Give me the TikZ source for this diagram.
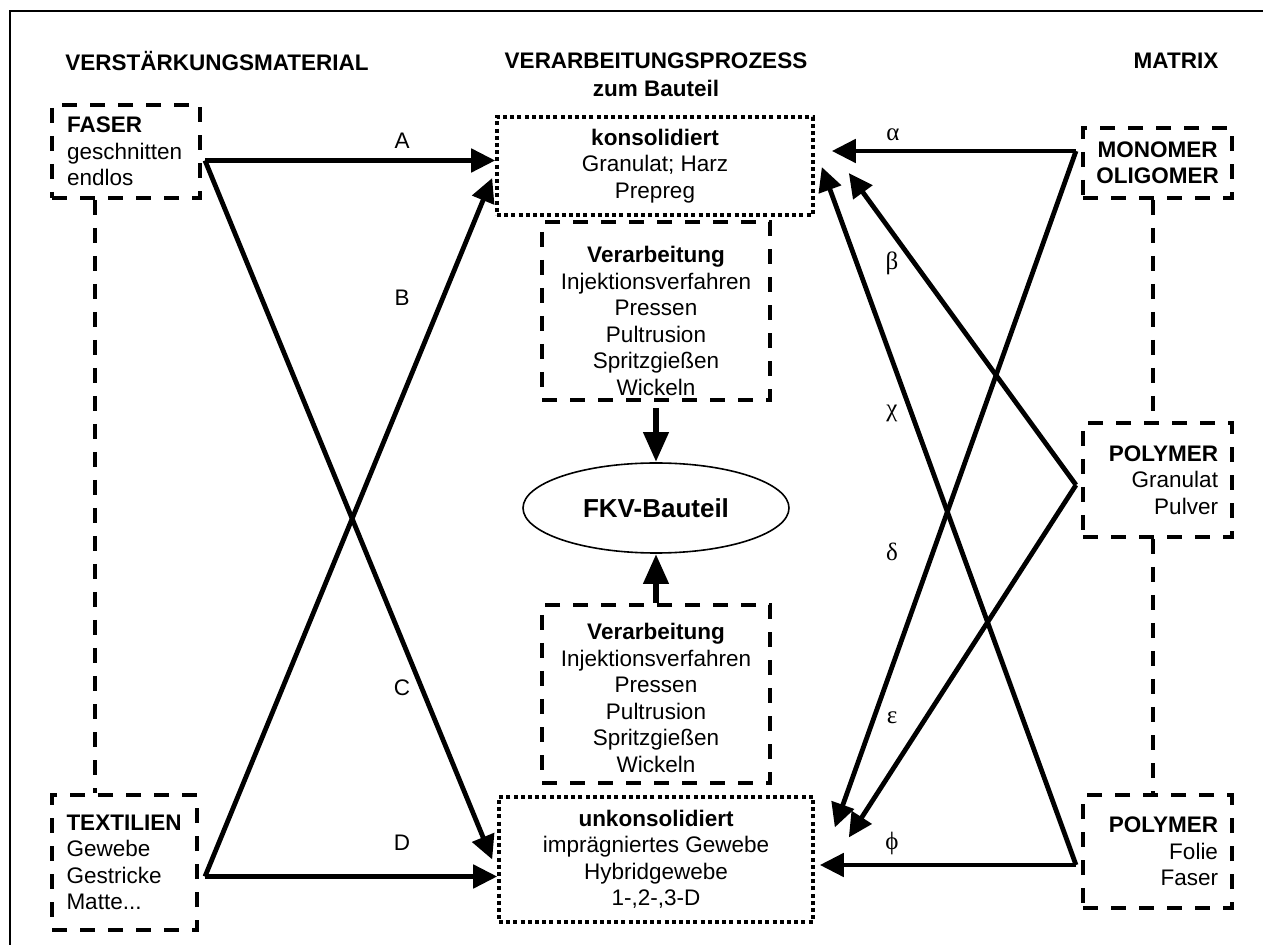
\documentclass[tikz,border=0pt]{standalone}
\usepackage{fontspec}
\setmainfont{Liberation Sans}
\newfontfamily\greekfont{Liberation Serif}
\usepackage{tikz}
\usetikzlibrary{calc,positioning,arrows.meta,shapes.geometric}

\begin{document}
\begin{tikzpicture}[x=0.5pt,y=-0.5pt,
    every node/.style={font=\fontsize{11.25}{13.25}\selectfont, inner sep=0pt},
    dashbox/.style={draw, line width=2pt, dash pattern=on 7.5pt off 6.5pt},
    dotbox/.style={draw, line width=1.8pt, dash pattern=on 2pt off 1.6pt, align=center},
    dashline/.style={line width=2pt, dash pattern=on 7.5pt off 6.5pt},
    arr/.style={line width=2.4pt, -{Triangle[length=12pt,width=11.5pt]}},
    bigarr/.style={line width=3.4pt, -{Triangle[length=15pt,width=12pt]}},
    letter/.style={font=\fontsize{11.25}{13}\selectfont},
    greek/.style={font=\greekfont\fontsize{12.5}{14}\selectfont}]

    \useasboundingbox (0,0) rectangle (1263,945);
    \draw[line width=0.6pt] (10,945) -- (10,11) -- (1263,11);

    % headings
    \node (hverst) at (217,61) {\textbf{VERSTÄRKUNGSMATERIAL}};
    \node[align=center] (hproz) at (656,75) {\textbf{VERARBEITUNGSPROZESS}\\[0.5pt]\textbf{zum Bauteil}};
    \node (hmatrix) at (1176,61) {\textbf{MATRIX}};

    % left column
    \node[dashbox, minimum width=74pt, minimum height=46.5pt, text width=59pt, align=left] (faser) at (126,151.5) {\textbf{FASER}\\geschnitten\\endlos};
    \node[dashbox, minimum width=72.5pt, minimum height=67.5pt, text width=58pt, align=left] (textil) at (124.5,862.5) {\textbf{TEXTILIEN}\\Gewebe\\Gestricke\\Matte...};

    % middle column
    \node[dotbox, minimum width=158pt, minimum height=49pt] (kons) at (655,166) {\textbf{konsolidiert}\\Granulat; Harz\\Prepreg};
    \node[dashbox, align=center, minimum width=114pt, minimum height=89pt] (verarbO) at (656,311) {\rule{0pt}{18pt}\textbf{Verarbeitung}\\Injektionsverfahren\\Pressen\\Pultrusion\\Spritzgießen\\Wickeln};
    \node[draw, ellipse, line width=0.8pt, minimum width=133pt, minimum height=45pt, font=\fontsize{13}{15}\selectfont\bfseries] (bauteil) at (656,508) {FKV-Bauteil};
    \node[dashbox, align=center, minimum width=114pt, minimum height=89pt] (verarbU) at (656,694) {\rule{0pt}{12pt}\textbf{Verarbeitung}\\Injektionsverfahren\\Pressen\\Pultrusion\\Spritzgießen\\Wickeln};
    \node[dotbox, minimum width=157pt, minimum height=62.5pt] (unkons) at (656,859.5) {\textbf{unkonsolidiert}\\imprägniertes Gewebe\\Hybridgewebe\\1-,2-,3-D};

    % right column
    \node[dashbox, align=center, minimum width=74.5pt, minimum height=35pt] (mono) at (1157.5,163) {\textbf{MONOMER}\\\textbf{OLIGOMER}};
    \node[dashbox, text width=60.5pt, align=right, minimum width=74.5pt, minimum height=57pt] (gran) at (1157.5,480) {\textbf{POLYMER}\\Granulat\\Pulver};
    \node[dashbox, text width=60.5pt, align=right, minimum width=74.5pt, minimum height=56.5pt] (folie) at (1157.5,851.5) {\textbf{POLYMER}\\Folie\\Faser};

    % rails and junctions
    \coordinate (leftRail) at (95,0);
    \coordinate (rightRail) at (1153,0);
    \coordinate (faserOut) at ($(faser.east)+(3,9)$);
    \coordinate (texOut) at ($(textil.east)+(6,14)$);
    \coordinate (monoOut) at ($(mono.west)+(-5,-12)$);
    \coordinate (granOut) at ($(gran.west)+(-5,5)$);
    \coordinate (folieOut) at ($(folie.west)+(-5,13.5)$);

    \draw[dashline] (faser.south -| leftRail) -- (textil.north -| leftRail);
    \draw[dashline] (mono.south -| rightRail) -- (gran.north -| rightRail);
    \draw[dashline] (gran.south -| rightRail) -- (folie.north -| rightRail);

    % reinforcement arrows
    \draw[arr] (faserOut) -- (kons.west |- faserOut);
    \draw[arr] (faserOut) -- ($(unkons.west)+(-5,0)$);
    \draw[arr] (texOut) -- ($(kons.west)+(-3,12)$);
    \draw[arr] (texOut) -- (unkons.west |- texOut);

    % matrix arrows
    \draw[arr] (monoOut) -- ($(kons.east |- monoOut)+(17,0)$);
    \draw[arr] (monoOut) -- ($(unkons.east)+(20,-32)$);
    \draw[arr] (granOut) -- ($(kons.east)+(34,7)$);
    \draw[arr] (granOut) -- ($(unkons.east)+(34,-22)$);
    \draw[arr] (folieOut) -- ($(kons.east)+(7,1)$);
    \draw[arr] (folieOut) -- ($(unkons.east |- folieOut)+(5,0)$);

    % to the part
    \draw[bigarr, shorten <=3pt] (verarbO.south) -- (bauteil.north);
    \draw[bigarr] (verarbU.north) -- (bauteil.south);

    % labels
    \node[letter] (la) at (402,141) {A};
    \node[letter] (lb) at (402,298) {B};
    \node[letter] (lc) at (402,688) {C};
    \node[letter] (ld) at (402,843) {D};
    \node[greek] (lalpha) at (893,135) {α};
    \node[greek] (lbeta) at (892,263) {β};
    \node[greek] (lchi) at (892,413) {χ};
    \node[greek] (ldelta) at (892,552) {δ};
    \node[greek] (leps) at (892,718) {ε};
    \node[greek] (lphi) at (892,843) {ϕ};

\end{tikzpicture}
\end{document}
